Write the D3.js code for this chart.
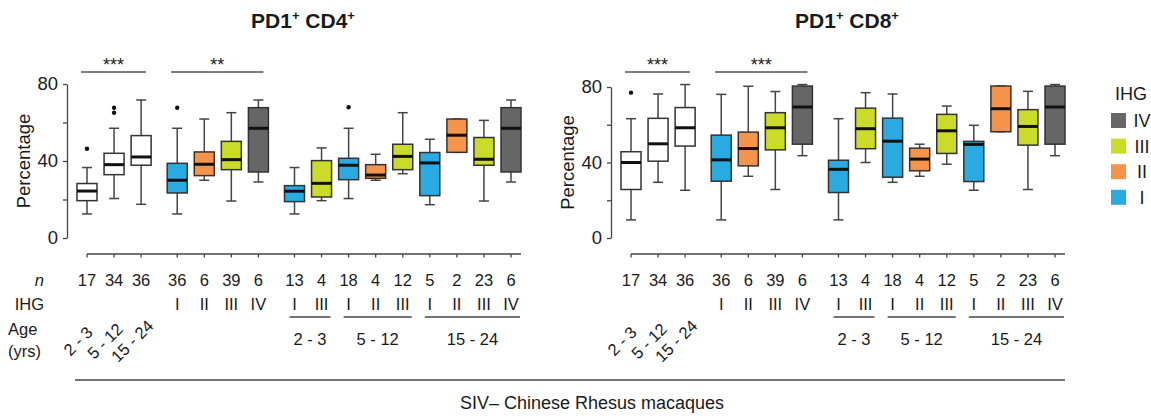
<!DOCTYPE html>
<html>
<head>
<meta charset="utf-8">
<title>PD1+ CD4+ / CD8+</title>
<script src="https://d3js.org/d3.v7.min.js"></script>
<style>
body { margin: 0; background: #fff; }
text { font-family: "Liberation Sans", Arial, sans-serif; fill: #1a1a1a; }
</style>
</head>
<body>
<svg id="chart" width="1151" height="420"></svg>
<script>
// box order along x (same for both panels)
var ihg = ["", "", "", "I", "II", "III", "IV", "I", "III", "I", "II", "III", "I", "II", "III", "IV"];
var block = [0, 0, 0, 1, 1, 1, 1, 2, 2, 2, 2, 2, 2, 2, 2, 2];
var nCounts = [17, 34, 36, 36, 6, 39, 6, 13, 4, 18, 4, 12, 5, 2, 23, 6];
var ageLabels = ["2 - 3", "5 - 12", "15 - 24"];
var ageGroups = [[7, 8], [9, 11], [12, 15]];   // first / last box of each age bracket
var ihgLevels = ["IV", "III", "II", "I"];
var ihgColors = {"": "#ffffff", "I": "#29abe2", "II": "#f7944b", "III": "#cadb2a", "IV": "#666666"};

// [low whisker, q1, median, q3, high whisker]
var cd4Stats = [
	[12.5, 19.4, 24.4, 28.3, 36.6],
	[20.5, 32.9, 38.1, 44.0, 57.0],
	[17.5, 37.8, 42.1, 53.2, 71.7],
	[12.5, 23.4, 30.0, 38.8, 57.0],
	[30.0, 32.4, 38.3, 44.7, 61.8],
	[19.2, 35.5, 40.7, 50.2, 65.1],
	[29.1, 34.3, 57.0, 67.7, 71.7],
	[12.5, 18.9, 24.3, 27.2, 36.6],
	[19.4, 21.3, 28.4, 40.2, 46.8],
	[20.5, 30.3, 37.8, 41.4, 57.0],
	[30.0, 31.0, 32.7, 38.1, 43.5],
	[33.4, 35.5, 42.4, 48.7, 65.1],
	[17.3, 22.0, 39.0, 44.4, 51.3],
	[44.5, 44.5, 53.4, 61.8, 61.8],
	[19.2, 37.8, 40.9, 52.2, 61.1],
	[29.1, 34.3, 57.0, 67.7, 71.7]
];
var cd4Outliers = [[46.4], [65.1, 67.7], [], [67.7], [], [], [], [], [], [67.9], [], [], [], [], [], []];
var cd4Sig = [[0, 2, "***"], [3, 6, "**"]];

var cd8Stats = [
	[9.6, 25.7, 40.0, 45.7, 63.2],
	[29.5, 40.7, 49.9, 63.4, 76.3],
	[25.3, 48.7, 58.4, 69.1, 81.3],
	[9.6, 30.1, 41.4, 54.5, 76.1],
	[32.7, 38.2, 47.4, 56.1, 80.4],
	[25.7, 46.7, 58.4, 66.4, 77.6],
	[43.6, 49.7, 69.4, 80.5, 81.3],
	[9.6, 24.1, 36.4, 41.2, 63.2],
	[40.0, 47.3, 57.9, 68.8, 77.0],
	[29.5, 32.2, 51.3, 63.5, 76.3],
	[32.7, 35.6, 41.8, 47.6, 49.7],
	[39.1, 44.8, 56.8, 65.5, 69.9],
	[25.3, 29.9, 49.6, 51.2, 59.7],
	[56.3, 56.3, 68.5, 80.5, 80.5],
	[25.7, 49.2, 59.1, 68.0, 77.7],
	[43.6, 49.7, 69.4, 80.5, 81.3]
];
var cd8Outliers = [[77.0], [], [], [], [], [], [], [], [], [], [], [], [], [], [], []];
var cd8Sig = [[0, 2, "***"], [3, 6, "***"]];

var svg = d3.select("#chart");
var fs = 16.5;   // table text size

var panels = [
	{cell: "CD4", stats: cd4Stats, outliers: cd4Outliers, sig: cd4Sig, x0: 87, x1: 511, yTop: 84, axisX: 67, rowLabels: true},
	{cell: "CD8", stats: cd8Stats, outliers: cd8Outliers, sig: cd8Sig, x0: 631, x1: 1055, yTop: 87, axisX: 611, rowLabels: false}
];

panels.forEach(drawPanel);

function drawPanel(p) {
	var g = svg.append("g");

	var x = d3.scaleLinear()
		.domain([0, ihg.length - 1 + 2 / 3])
		.range([p.x0, p.x1]);
	var pos = function(i) { return x(i + block[i] / 3); };

	var y = d3.scaleLinear()
		.domain([0, 80])
		.range([238, p.yTop]);

	// title
	var title = g.append("text")
		.attr("x", (p.x0 + p.x1) / 2 + 4)
		.attr("y", 28)
		.attr("text-anchor", "middle")
		.attr("font-size", 21)
		.attr("font-weight", "bold");
	title.append("tspan").text("PD1");
	title.append("tspan").attr("font-size", 13).attr("dy", -8).text("+");
	title.append("tspan").attr("dy", 8).text(" " + p.cell);
	title.append("tspan").attr("font-size", 13).attr("dy", -8).text("+");

	// y axis
	var ax = g.append("g")
		.attr("transform", "translate(" + p.axisX + ",0)")
		.call(d3.axisLeft(y)
			.tickValues([0, 20, 40, 60, 80])
			.tickFormat(function(d) { return d % 40 ? "" : d; })
			.tickSize(4)
			.tickSizeOuter(0)
			.tickPadding(5))
		.attr("font-family", null)
		.attr("font-size", 18.5);
	ax.selectAll("path, line").attr("stroke", "#444").attr("stroke-width", 1.3);
	ax.selectAll("text").attr("fill", "#1a1a1a");

	g.append("text")
		.attr("transform", "translate(" + (p.axisX - 43) + "," + y(40) + ") rotate(-90)")
		.attr("text-anchor", "middle")
		.attr("dy", "0.35em")
		.attr("font-size", 18.5)
		.text("Percentage");

	// significance bars
	p.sig.forEach(function(s) {
		var a = pos(s[0]) - 6, b = pos(s[1]) + 5;
		g.append("line")
			.attr("x1", a).attr("x2", b)
			.attr("y1", 72).attr("y2", 72)
			.attr("stroke", "#555").attr("stroke-width", 1.5);
		g.append("text")
			.attr("x", (a + b) / 2)
			.attr("y", 70.5)
			.attr("text-anchor", "middle")
			.attr("font-size", 18)
			.text(s[2]);
	});

	// boxes
	var boxW = 20, capW = 10;
	var box = g.selectAll(".box")
		.data(p.stats)
		.join("g")
		.attr("class", "box")
		.attr("transform", function(d, i) { return "translate(" + pos(i) + ",0)"; });

	box.append("line")
		.attr("y1", function(d) { return y(d[0]); })
		.attr("y2", function(d) { return y(d[4]); })
		.attr("stroke", "#444").attr("stroke-width", 1.5);
	box.selectAll(".cap")
		.data(function(d) { return [d[0], d[4]]; })
		.join("line")
		.attr("class", "cap")
		.attr("x1", -capW / 2).attr("x2", capW / 2)
		.attr("y1", function(v) { return y(v); })
		.attr("y2", function(v) { return y(v); })
		.attr("stroke", "#444").attr("stroke-width", 1.5);
	box.append("rect")
		.attr("x", -boxW / 2)
		.attr("width", boxW)
		.attr("y", function(d) { return y(d[3]); })
		.attr("height", function(d) { return y(d[1]) - y(d[3]); })
		.attr("fill", function(d, i) { return ihgColors[ihg[i]]; })
		.attr("stroke", "#333").attr("stroke-width", 1.5);
	box.append("line")
		.attr("x1", -boxW / 2).attr("x2", boxW / 2)
		.attr("y1", function(d) { return y(d[2]); })
		.attr("y2", function(d) { return y(d[2]); })
		.attr("stroke", "#111").attr("stroke-width", 3);

	p.outliers.forEach(function(list, i) {
		list.forEach(function(v) {
			g.append("circle")
				.attr("cx", pos(i)).attr("cy", y(v))
				.attr("r", 2.2).attr("fill", "#111");
		});
	});

	// table under the boxes
	var lastX = pos(ihg.length - 1);
	g.append("line")
		.attr("x1", pos(0)).attr("x2", lastX + 10)
		.attr("y1", 254).attr("y2", 254)
		.attr("stroke", "#444").attr("stroke-width", 1.3);
	ihg.forEach(function(h, i) {
		g.append("line")
			.attr("x1", pos(i)).attr("x2", pos(i))
			.attr("y1", 254).attr("y2", 257.5)
			.attr("stroke", "#444").attr("stroke-width", 1.3);
		g.append("text")
			.attr("x", pos(i)).attr("y", 286)
			.attr("text-anchor", "middle")
			.attr("font-size", fs)
			.text(nCounts[i]);
		if (h) g.append("text")
			.attr("x", pos(i)).attr("y", 310)
			.attr("text-anchor", "middle")
			.attr("font-size", fs)
			.text(h);
	});

	ageLabels.forEach(function(a, i) {
		g.append("text")
			.attr("transform", "translate(" + (pos(i) - 9) + ",341) rotate(-45)")
			.attr("text-anchor", "middle")
			.attr("dy", "0.35em")
			.attr("font-size", fs)
			.text(a);
	});

	ageGroups.forEach(function(r, k) {
		var a = pos(r[0]) - 5, b = pos(r[1]) + 9;
		g.append("line")
			.attr("x1", a).attr("x2", b)
			.attr("y1", 317).attr("y2", 317)
			.attr("stroke", "#444").attr("stroke-width", 1.5);
		g.append("text")
			.attr("x", (a + b) / 2).attr("y", 345)
			.attr("text-anchor", "middle")
			.attr("font-size", fs)
			.text(ageLabels[k]);
	});

	if (p.rowLabels) {
		g.append("text").attr("x", 44).attr("y", 286).attr("text-anchor", "end")
			.attr("font-size", fs).attr("font-style", "italic").text("n");
		g.append("text").attr("x", 44).attr("y", 310).attr("text-anchor", "end")
			.attr("font-size", fs).text("IHG");
		g.append("text").attr("x", 8).attr("y", 335)
			.attr("font-size", fs).text("Age");
		g.append("text").attr("x", 8).attr("y", 357)
			.attr("font-size", fs).text("(yrs)");
	}
}

// legend
var legend = svg.append("g").attr("transform", "translate(1111,0)");
legend.append("text")
	.attr("x", 4).attr("y", 100)
	.attr("font-size", 18)
	.text("IHG");
ihgLevels.forEach(function(h, k) {
	var yy = 113 + k * 25.6;
	legend.append("rect")
		.attr("x", 0).attr("y", yy)
		.attr("width", 15).attr("height", 15)
		.attr("fill", ihgColors[h]);
	legend.append("text")
		.attr("x", 31).attr("y", yy + 14)
		.attr("text-anchor", "middle")
		.attr("font-size", 18)
		.text(h);
});

// bottom caption
svg.append("line")
	.attr("x1", 75).attr("x2", 1065)
	.attr("y1", 380).attr("y2", 380)
	.attr("stroke", "#444").attr("stroke-width", 1.5);
svg.append("text")
	.attr("x", 592).attr("y", 409)
	.attr("text-anchor", "middle")
	.attr("font-size", 18)
	.text("SIV\u2013 Chinese Rhesus macaques");
</script>
</body>
</html>
